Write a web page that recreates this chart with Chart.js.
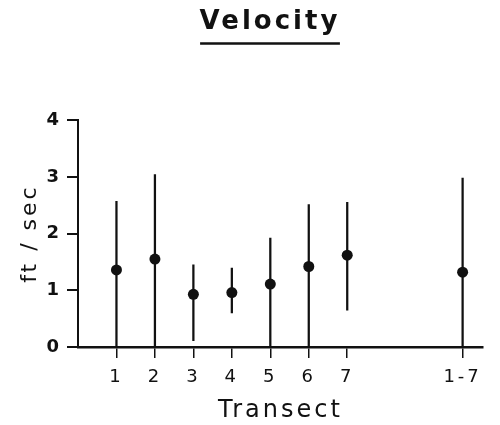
<!DOCTYPE html>
<html>
<head>
<meta charset="utf-8">
<script src="https://cdn.jsdelivr.net/npm/chart.js@4.4.0/dist/chart.umd.min.js"></script>
<style>
  html, body { margin: 0; padding: 0; background: #fff; }
  #wrap { width: 500px; height: 425px; position: relative; }
</style>
</head>
<body>
<div id="wrap"><canvas id="velocityChart"></canvas></div>
<script>
const transects = ['1', '2', '3', '4', '5', '6', '7', '1-7'];
const transectPos = [1, 2, 3, 4, 5, 6, 7, 10];
const velocityMean = [1.36, 1.55, 0.93, 0.96, 1.11, 1.42, 1.62, 1.32];
const velocityLow = [0, 0, 0.11, 0.6, 0, 0, 0.65, 0];
const velocityHigh = [2.57, 3.04, 1.45, 1.39, 1.92, 2.51, 2.55, 2.98];
const yTicks = [0, 1, 2, 3, 4];

const INK = '#111';
Chart.defaults.font.family = "'DejaVu Sans', sans-serif";
Chart.defaults.color = INK;

// spaced-out lettering like the original drawing
const spacing = {
    id: 'spacing',
    beforeUpdate(chart) { chart.ctx.letterSpacing = '3px'; },
    beforeDraw(chart) { chart.ctx.letterSpacing = '3px'; },
    afterLayout(chart) {
        // title sits a little left of the plot centre in the original
        const t = chart.titleBlock;
        t.left -= 21;
        t.width = t.right - t.left;
    }
};

const underline = {
    id: 'underline',
    afterDraw(chart) {
        const t = chart.titleBlock;
        const ctx = chart.ctx;
        ctx.save();
        ctx.letterSpacing = '3px';
        ctx.font = "bold 26px 'DejaVu Sans'";
        const w = ctx.measureText('Velocity').width - 3;
        const cx = (t.left + t.right) / 2;
        const y = t.top + 7 + 15.6 + 21;
        ctx.strokeStyle = INK;
        ctx.lineWidth = 2.5;
        ctx.beginPath();
        ctx.moveTo(cx - w / 2 - 1, y);
        ctx.lineTo(cx + w / 2 + 1, y);
        ctx.stroke();
        ctx.restore();
    }
};

const rangeData = transectPos.map((x, i) => ({ x: x, y: [velocityLow[i], velocityHigh[i]] }));
const meanData = transectPos.map((x, i) => ({ x: x, y: velocityMean[i] }));

new Chart(document.getElementById('velocityChart').getContext('2d'), {
    data: {
        datasets: [
            {
                type: 'scatter',
                data: meanData,
                pointRadius: 5.5,
                pointBackgroundColor: INK,
                pointBorderWidth: 0,
                order: 0
            },
            {
                type: 'bar',
                data: rangeData,
                backgroundColor: INK,
                borderWidth: 0,
                barThickness: 1.6,
                grouped: false,
                order: 1
            }
        ]
    },
    options: {
        responsive: true,
        maintainAspectRatio: false,
        animation: false,
        layout: { padding: { top: 0, right: 17, bottom: 0, left: 0 } },
        plugins: {
            legend: { display: false },
            tooltip: { enabled: false },
            title: {
                display: true,
                text: 'Velocity',
                fullSize: false,
                font: { size: 26, weight: 'bold', lineHeight: 1.2 },
                color: INK,
                padding: { top: 7, bottom: 82 }
            }
        },
        scales: {
            x: {
                type: 'linear',
                offset: false,
                min: 0,
                max: 10.53,
                afterBuildTicks(scale) {
                    scale.ticks = transectPos.map(v => ({ value: v }));
                },
                afterFit(scale) { scale.height = 78; },
                ticks: {
                    autoSkip: false,
                    maxRotation: 0,
                    padding: 9,
                    font: { size: 18 },
                    callback(v) {
                        const i = transectPos.indexOf(v);
                        return i >= 0 ? transects[i] : '';
                    }
                },
                grid: { offset: false, drawOnChartArea: false, tickLength: 11, color: INK, lineWidth: 1.5 },
                border: { display: true, color: INK, width: 2.5 },
                title: {
                    display: true,
                    text: 'Transect',
                    font: { size: 24, lineHeight: 1.2 },
                    padding: { top: 0, bottom: 0 }
                }
            },
            y: {
                min: 0,
                max: 4,
                afterBuildTicks(scale) {
                    scale.ticks = yTicks.map(v => ({ value: v }));
                },
                afterFit(scale) { scale.width = 78; },
                ticks: {
                    padding: 5,
                    font: { size: 18, weight: 'bold' }
                },
                grid: { drawOnChartArea: false, tickLength: 11, color: INK, lineWidth: 2 },
                border: { display: true, color: INK, width: 2 },
                title: {
                    display: true,
                    text: 'ft / sec',
                    font: { size: 22, lineHeight: 1.2 },
                    padding: { top: 17, bottom: 0 }
                }
            }
        }
    },
    plugins: [spacing, underline]
});
</script>
</body>
</html>
